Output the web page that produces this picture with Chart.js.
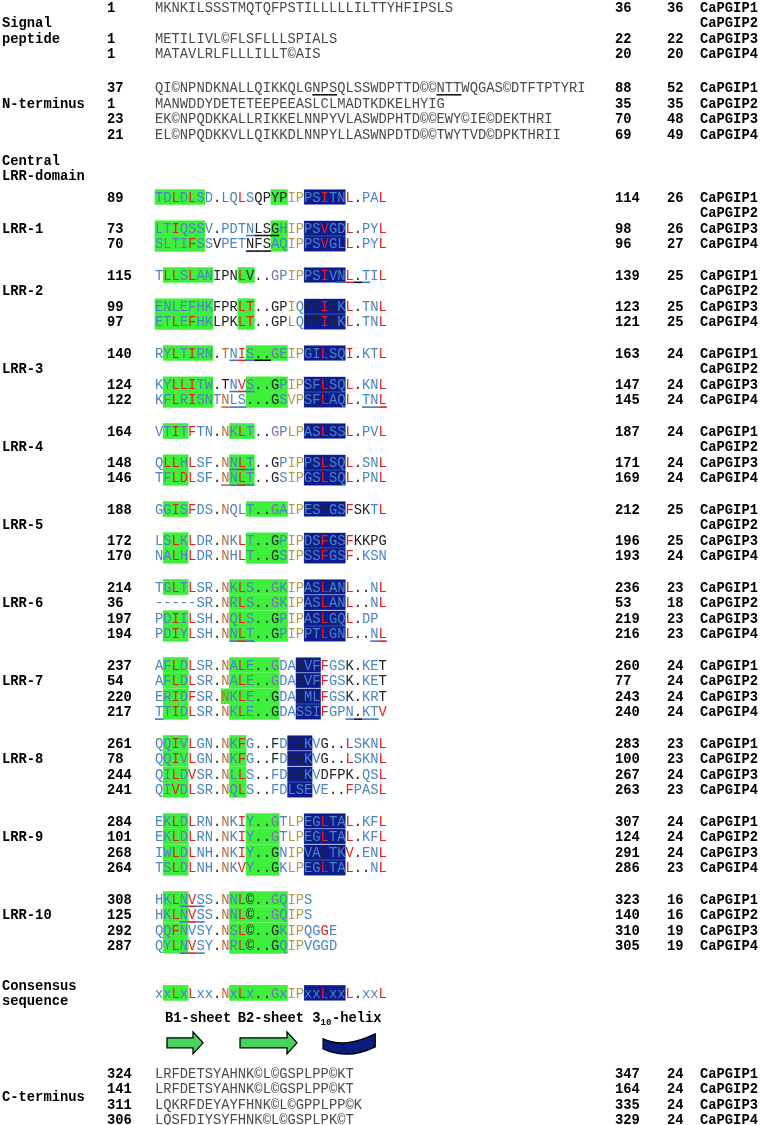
<!DOCTYPE html>
<html><head><meta charset="utf-8">
<script src="https://cdn.jsdelivr.net/npm/chart.js@4.4.0/dist/chart.umd.min.js"></script>
<style>html,body{margin:0;padding:0;background:#fff;}#wrap{width:761px;height:1125px;position:relative;}</style>
</head><body><div id="wrap"><canvas id="c"></canvas></div>
<script>
// ---------------- DATA ----------------
const proteins = ['CaPGIP1','CaPGIP2','CaPGIP3','CaPGIP4'];
// block top rows: signal, N-term, LRR-1..LRR-10, C-term
const blockTops = [0, 5.16, 12.18, 17.18, 22.18, 27.18, 32.18, 37.18, 42.18, 47.18, 52.18, 57.18, 68.33];
const sequences = [
 'MKNKILSSSTMQTQFPSTILLLLLILTTYHFIPSLS','','METILIVL©FLSFLLLSPIALS','MATAVLRLFLLLILLT©AIS',
 'QI©NPNDKNALLQIKKQLGNPSQLSSWDPTTD©©NTTWQGAS©DTFTPTYRI','MANWDDYDETETEEPEEASLCLMADTKDKELHYIG','EK©NPQDKKALLRIKKELNNPYVLASWDPHTD©©EWY©IE©DEKTHRI','EL©NPQDKKVLLQIKKDLNNPYLLASWNPDTD©©TWYTVD©DPKTHRII',
 'TDLDLSD.LQLSQPYPIPPSITNL.PAL','','LTIQSSV.PDTNLSGHIPPSVGDL.PYL','SLTIFSSVPETNFSAQIPPSVGLL.PYL',
 'TLLSLANIPNLV..GPIPPSIVNL.TIL','','ENLEFHKFPRLT..GPIQPTIAKL.TNL','ETLEFHKLPKLT..GPLQPTIAKL.TNL',
 'RYLTIRN.TNIS..GEIPGILSQI.KTL','','KYLLITW.TNVS..GPIPSFLSQL.KNL','KFLRISNTNLS...GSVPSFLAQL.TNL',
 'VTITFTN.NKLT..GPLPASLSSL.PVL','','QLLHLSF.NNLT..GPIPPSLSQL.SNL','TFLDLSF.NNLT..GSIPGSLSQL.PNL',
 'GGISFDS.NQLT..GAIPESYGSFSKTL','','LSLKLDR.NKLT..GPIPDSFGSFKKPG','NALHLDR.NHLT..GSIPSSFGSF.KSN',
 'TGLTLSR.NKLS..GKIPASLANL..NL','-----SR.NRLS..GKIPASLANL..NL','PDIILSH.NQLS..GPIPASLGQL.DP','PDIYLSH.NNLT..GPIPPTLGNL..NL',
 'AFLDLSR.NALE..GDASVFFGSK.KET','AFLDLSR.NALE..GDASVFFGSK.KET','ERIDFSR.NKLE..GDASMLFGSK.KRT','TTIDLSR.NKLE..GDASSIFGPN.KTV',
 'QQIVLGN.NKFG..FDFGKVG..LSKNL','QQIVLGN.NKFG..FDFGKVG..LSKNL','QILDVSR.NLLS..FDFSKVDFPK.QSL','QIVDLSR.NQLS..FDLSEVE..FPASL',
 'EKLDLRN.NKIY..GTLPEGLTAL.KFL','EKLDLRN.NKIY..GTLPEGLTAL.KFL','IWLDLNH.NKIY..GNIPVALTKV.ENL','TSLDLNH.NKVY..GKLPEGLTAL..NL',
 'HKLNVSS.NNL©..GQIPS','HKLNVSS.NNL©..GQIPS','QQFNVSY.NSL©..GKIPQGGE','QYLNVSY.NRL©..GQIPVGGD',
 'LRFDETSYAHNK©L©GSPLPP©KT','LRFDETSYAHNK©L©GSPLPP©KT','LQKRFDEYAYFHNK©L©GPPLPP©K','LQSFDIYSYFHNK©L©GSPLPK©T'
];
const startNums = ['1','','1','1','37','1','23','21','89','','73','70','115','','99','97','140','','124','122','164','','148','146','188','','172','170','214','36','197','194','237','54','220','217','261','78','244','241','284','101','268','264','308','125','292','287','324','141','311','306'];
const endNums = ['36','','22','20','88','35','70','69','114','','98','96','139','','123','121','163','','147','145','187','','171','169','212','','196','193','236','53','219','216','260','77','243','240','283','100','267','263','307','124','291','286','323','140','310','305','347','164','335','329'];
const lengths = ['36','','22','20','52','35','48','49','26','','26','27','25','','25','25','24','','24','24','24','','24','24','25','','25','24','23','18','23','23','24','24','24','24','23','23','24','23','24','24','24','23','16','16','19','19','24','24','24','24'];
// colour code per residue: b blue, r red, o orange, g gold, p purple, k black ('' = plain grey text)
const colorCodes = [
 '','','','',
 '','','','',
 'bbrbrbbkbbrbkkkkggbbrbbrkbbr','','bbrbbbbkbbbbkkkbggbbrbbrkbbr','bbbbrbbkbbbkkkbbggbbrbbrkbbr',
 'brrbrbbkkkrkkkpbggbbrbbrkbbr','','bbbbbbbkkkrrkkkkgbkkrkbrkbbr','bbrbrbbkkkrrkkkkgbkkrkbrkbbr',
 'bbrbrbbkobrbkkpbggbbrbbrkbbr','','bbrrrbbkkbrbkkkbggbbrbbrkbbr','bbrbrbbbobbkkkkbggbbrbbrkbbr',
 'bbrbrbbkobrbkkpbggbbrbbrkbbr','','brrbrbbkobrbkkkbggbbrbbrkbbr','bbrrrbbkobrbkkkbggbbrbbrkbbr',
 'bbrbrbbkobbbkkpbggbbkbbrkkbr','','bbrbrbbkobrbkkkbggbbrbbrkkkk','bbrbrbbkobrbkkkbggbbrbbrkbbb',
 'bbrbrbbkobrbkkpbggbbrbbrkkbr','bbbbbbbkobrbkkpbggbbrbbrkkbr','bbrbrbbkobrbkkkbggbbrbbrkbb','bbrbrbbkobrbkkkbggbbrbbrkkbr',
 'bbrbrbbkobrbkkpbbkbbrbbkkbbk','bbrbrbbkobrbkkpbbkbbrbbkkbbk','bbrbrbbkobrbkkkbbkbbrbbkkbbk','bbrbrbbkobrbkkkbbbbbrbbbkbbr',
 'bbrbrbbkobrbkkkbkkbbkkkrbbbr','bbrbrbbkobrbkkkbkkbbkkkrbbbr','bbrbrbbkobrbkkbbkkbbkkkkkbbr','bbrbrbbkobrbkkbbbbbbbkkrbbbr',
 'bbrbrbbkobrbkkpbggbbrbbrkbbr','bbrbrbbkobrbkkpbggbbrbbrkbbr','bbrbrbbkobrbkkkbggbbkbbrkbbr','bbrbrbbkobrbkkkbggbbrbbrkkbr',
 'bbrbrbbkobrkkkpbggb','bbrbrbbkobrkkkpbggb','bbrbbbbkobrkkkkbggbbrb','bbrbrbbkobrkkkkbggbbbb',
 '','','',''
];
const greenRuns = [
 '','','','', '','','','',
 '0-5,14-15','','0-5,14-15','0-5,14-15',
 '1-6,10-11','','0-6,10-11','0-6,10-11',
 '1-6,11-15','','1-6,11-15','1-6,11-15',
 '1-3,9-11','','1-3,9-11','1-3,9-11',
 '1-3,11-15','','1-3,11-15','1-3,11-15',
 '1-3,9-15','9-15','1-3,9-15','1-3,9-15',
 '1-3,9-14','1-3,9-14','1-3,8-14','1-3,9-14',
 '1-3,9-10','1-3,9-10','1-3,9-10','1-3,9-10',
 '1-3,11-14','1-3,11-14','1-3,11-14','1-3,11-14',
 '1-3,9-15','1-3,9-15','1-3,9-15','1-3,9-15',
 '','','',''
];
const navyRuns = [
 '','','','', '','','','',
 '18-22','','18-22','18-22',
 '18-22','','18-22','18-22',
 '18-22','','18-22','18-22',
 '18-22','','18-22','18-22',
 '18-22','','18-22','18-22',
 '18-22','18-22','18-22','18-22',
 '17-19','17-19','17-19','17-19',
 '16-18','16-18','16-18','16-18',
 '18-22','18-22','18-22','18-22',
 '','','','',
 '','','',''
];
// underlined residues: position + colour letter
const underlineMarks = [
 '','','','',
 '19k,20k,21k,34k,35k,36k','','','',
 '','','11b,12k,13k,14k','11k,12k,13k',
 '22b,23r,24k,25b','','','',
 '9b,10r,11b,12k,13k','','9b,10r,11b','8o,9b,10b,25b,26b,27r',
 '','','9b,10r,11b','8o,9b,10r,11b',
 '','','','',
 '','','','9b,10r,11b,26b,27r',
 '','','','0b,23b,24k,25b,26b',
 '','','','',
 '','','','',
 '3b,4r,5b','3b,4r,5b','','3b,4r,5b',
 '','','',''
];
const consensusSeq = 'xxLxLxx.NxLx..GxIPxxLxxL.xxL';
const consensusColors = 'bbrbrbbkobrbkkpbggbbrbbrkbbr';
const consensusGreen = '1-3,9-15';
const consensusNavy = '18-22';
const consensusRow = 63.2;
const sideLabels = [['Signal',1],['peptide',2],['N-terminus',6.16],['Central',9.81],['LRR-domain',10.81],
 ['LRR-1',14.18],['LRR-2',18.18],['LRR-3',23.18],['LRR-4',28.18],['LRR-5',33.18],['LRR-6',38.18],
 ['LRR-7',43.18],['LRR-8',48.18],['LRR-9',53.18],['LRR-10',58.18],['Consensus',62.7],['sequence',63.7],['C-terminus',69.83]];
const structures = [
 {label:'B1-sheet', labelAt:1.2, type:'sheet', from:1.45, to:5.8},
 {label:'B2-sheet', labelAt:10.0, type:'sheet', from:10.27, to:17.15},
 {label:'3|10|-helix', labelAt:19.0, type:'helix', from:20.3, to:26.6}
];
const structLabelRow = 64.8, structRow = 66.4;

// ---------------- LAYOUT / STYLE ----------------
const CW = 8.28, PITCH = 15.6;
const X0PX = 155, Y0PX = 7, W = 761, H = 1125;
const XMIN = -X0PX / CW, XMAX = XMIN + W / CW;
const YMIN = -Y0PX / PITCH, YMAX = YMIN + H / PITCH;
const colPx = px => (px - X0PX) / CW;
const COL_LABEL = colPx(2), COL_START = colPx(107), COL_END = colPx(615), COL_LEN = colPx(667), COL_NAME = colPx(700);
const PAL = {b:'#4a84c4', r:'#ec1c1c', o:'#c46a34', g:'#b29a48', p:'#8a68c0', k:'#222222'};
const ULC = {b:'#3a78cc', r:'#e81c1c', k:'#111111', o:'#c46a34'};
const PLAIN = '#4a4a4a';
const SEQ_FONT = '13.8px "Liberation Mono", "Courier New", monospace';
const BOLD_FONT = 'bold 13.8px "Liberation Mono", "Courier New", monospace';

// ---------------- BUILD ----------------
const lines = sequences.map((s, i) => ({
  row: blockTops[Math.floor(i / 4)] + (i % 4),
  seq: s, colors: colorCodes[i], start: startNums[i], end: endNums[i], len: lengths[i],
  name: proteins[i % 4], green: greenRuns[i], navy: navyRuns[i], ul: underlineMarks[i]
}));
lines.push({row: consensusRow, seq: consensusSeq, colors: consensusColors, start:'', end:'', len:'', name:'',
  green: consensusGreen, navy: consensusNavy, ul:''});

function runsToBars(key) {
  const out = [];
  lines.forEach(l => {
    if (!l[key]) return;
    l[key].split(',').forEach(r => {
      const [a, b] = r.split('-').map(Number);
      out.push({y: l.row, x: [a, b + 1]});
    });
  });
  return out;
}

const textPlugin = {
  id: 'alignText',
  afterDatasetsDraw(chart) {
    const {ctx, scales: {x, y}} = chart;
    ctx.save();
    ctx.textBaseline = 'alphabetic';
    lines.forEach(l => {
      const py = y.getPixelForValue(l.row);
      const base = py + 4.6;
      ctx.font = SEQ_FONT; ctx.textAlign = 'center';
      for (let i = 0; i < l.seq.length; i++) {
        ctx.fillStyle = l.colors ? (PAL[l.colors[i]] || PAL.k) : PLAIN;
        ctx.fillText(l.seq[i], x.getPixelForValue(i + 0.5), base);
      }
      if (l.ul) {
        ctx.lineWidth = 1.6;
        l.ul.split(',').forEach(m => {
          const pos = parseInt(m, 10), c = m.slice(-1);
          ctx.strokeStyle = ULC[c];
          ctx.beginPath();
          ctx.moveTo(x.getPixelForValue(pos), py + 7.3);
          ctx.lineTo(x.getPixelForValue(pos + 1), py + 7.3);
          ctx.stroke();
        });
      }
      ctx.font = BOLD_FONT; ctx.textAlign = 'left'; ctx.fillStyle = '#000';
      if (l.start) ctx.fillText(l.start, x.getPixelForValue(COL_START), base);
      if (l.end) ctx.fillText(l.end, x.getPixelForValue(COL_END), base);
      if (l.len) ctx.fillText(l.len, x.getPixelForValue(COL_LEN), base);
      if (l.name) ctx.fillText(l.name, x.getPixelForValue(COL_NAME), base);
    });
    ctx.font = BOLD_FONT; ctx.fillStyle = '#000'; ctx.textAlign = 'left';
    sideLabels.forEach(([t, r]) => ctx.fillText(t, x.getPixelForValue(COL_LABEL), y.getPixelForValue(r) + 4.6));
    // structure labels and symbols
    const ly = y.getPixelForValue(structLabelRow) + 4.6;
    const sy = y.getPixelForValue(structRow);
    structures.forEach(s => {
      const lx = x.getPixelForValue(s.labelAt);
      const parts = s.label.split('|');
      ctx.fillStyle = '#000';
      if (parts.length === 3) {
        ctx.font = BOLD_FONT; ctx.fillText(parts[0], lx, ly);
        let w = ctx.measureText(parts[0]).width;
        ctx.font = 'bold 9px "Liberation Mono", monospace'; ctx.fillText(parts[1], lx + w, ly + 3);
        w += ctx.measureText(parts[1]).width + 0.5;
        ctx.font = BOLD_FONT; ctx.fillText(parts[2], lx + w, ly);
      } else {
        ctx.font = BOLD_FONT; ctx.fillText(s.label, lx, ly);
      }
      const x0 = x.getPixelForValue(s.from), x1 = x.getPixelForValue(s.to);
      ctx.lineWidth = 1.3; ctx.strokeStyle = '#000';
      ctx.beginPath();
      if (s.type === 'sheet') {
        const hx = x1 - 10;
        ctx.moveTo(x0, sy - 5); ctx.lineTo(hx, sy - 5); ctx.lineTo(hx, sy - 11); ctx.lineTo(x1, sy);
        ctx.lineTo(hx, sy + 11); ctx.lineTo(hx, sy + 5); ctx.lineTo(x0, sy + 5); ctx.closePath();
        ctx.fillStyle = '#46d35e';
      } else {
        const w = x1 - x0;
        ctx.moveTo(x0, sy - 4);
        ctx.bezierCurveTo(x0 + 0.3 * w, sy + 3, x0 + 0.6 * w, sy + 1, x1, sy - 9);
        ctx.lineTo(x1, sy + 4);
        ctx.bezierCurveTo(x0 + 0.6 * w, sy + 14, x0 + 0.3 * w, sy + 13, x0, sy + 6);
        ctx.closePath();
        ctx.fillStyle = '#0b1c80';
      }
      ctx.fill(); ctx.stroke();
    });
    ctx.restore();
  }
};

new Chart(document.getElementById('c'), {
  type: 'bar',
  data: {
    datasets: [
      {label: 'beta-sheet', data: runsToBars('green'), backgroundColor: '#3ef03c', borderWidth: 0, grouped: false, barThickness: 15, borderSkipped: false},
      {label: '3-10 helix', data: runsToBars('navy'), backgroundColor: '#0c1c8c', borderColor: '#3a52a8', borderWidth: 0.6, grouped: false, barThickness: 15, borderSkipped: false}
    ]
  },
  options: {
    indexAxis: 'y', responsive: true, maintainAspectRatio: false, animation: false,
    layout: {padding: 0},
    plugins: {legend: {display: false}, tooltip: {enabled: false}},
    scales: {
      x: {type: 'linear', min: XMIN, max: XMAX, display: false},
      y: {type: 'linear', min: YMIN, max: YMAX, reverse: true, display: false, offset: false}
    }
  },
  plugins: [textPlugin]
});
</script></body></html>
